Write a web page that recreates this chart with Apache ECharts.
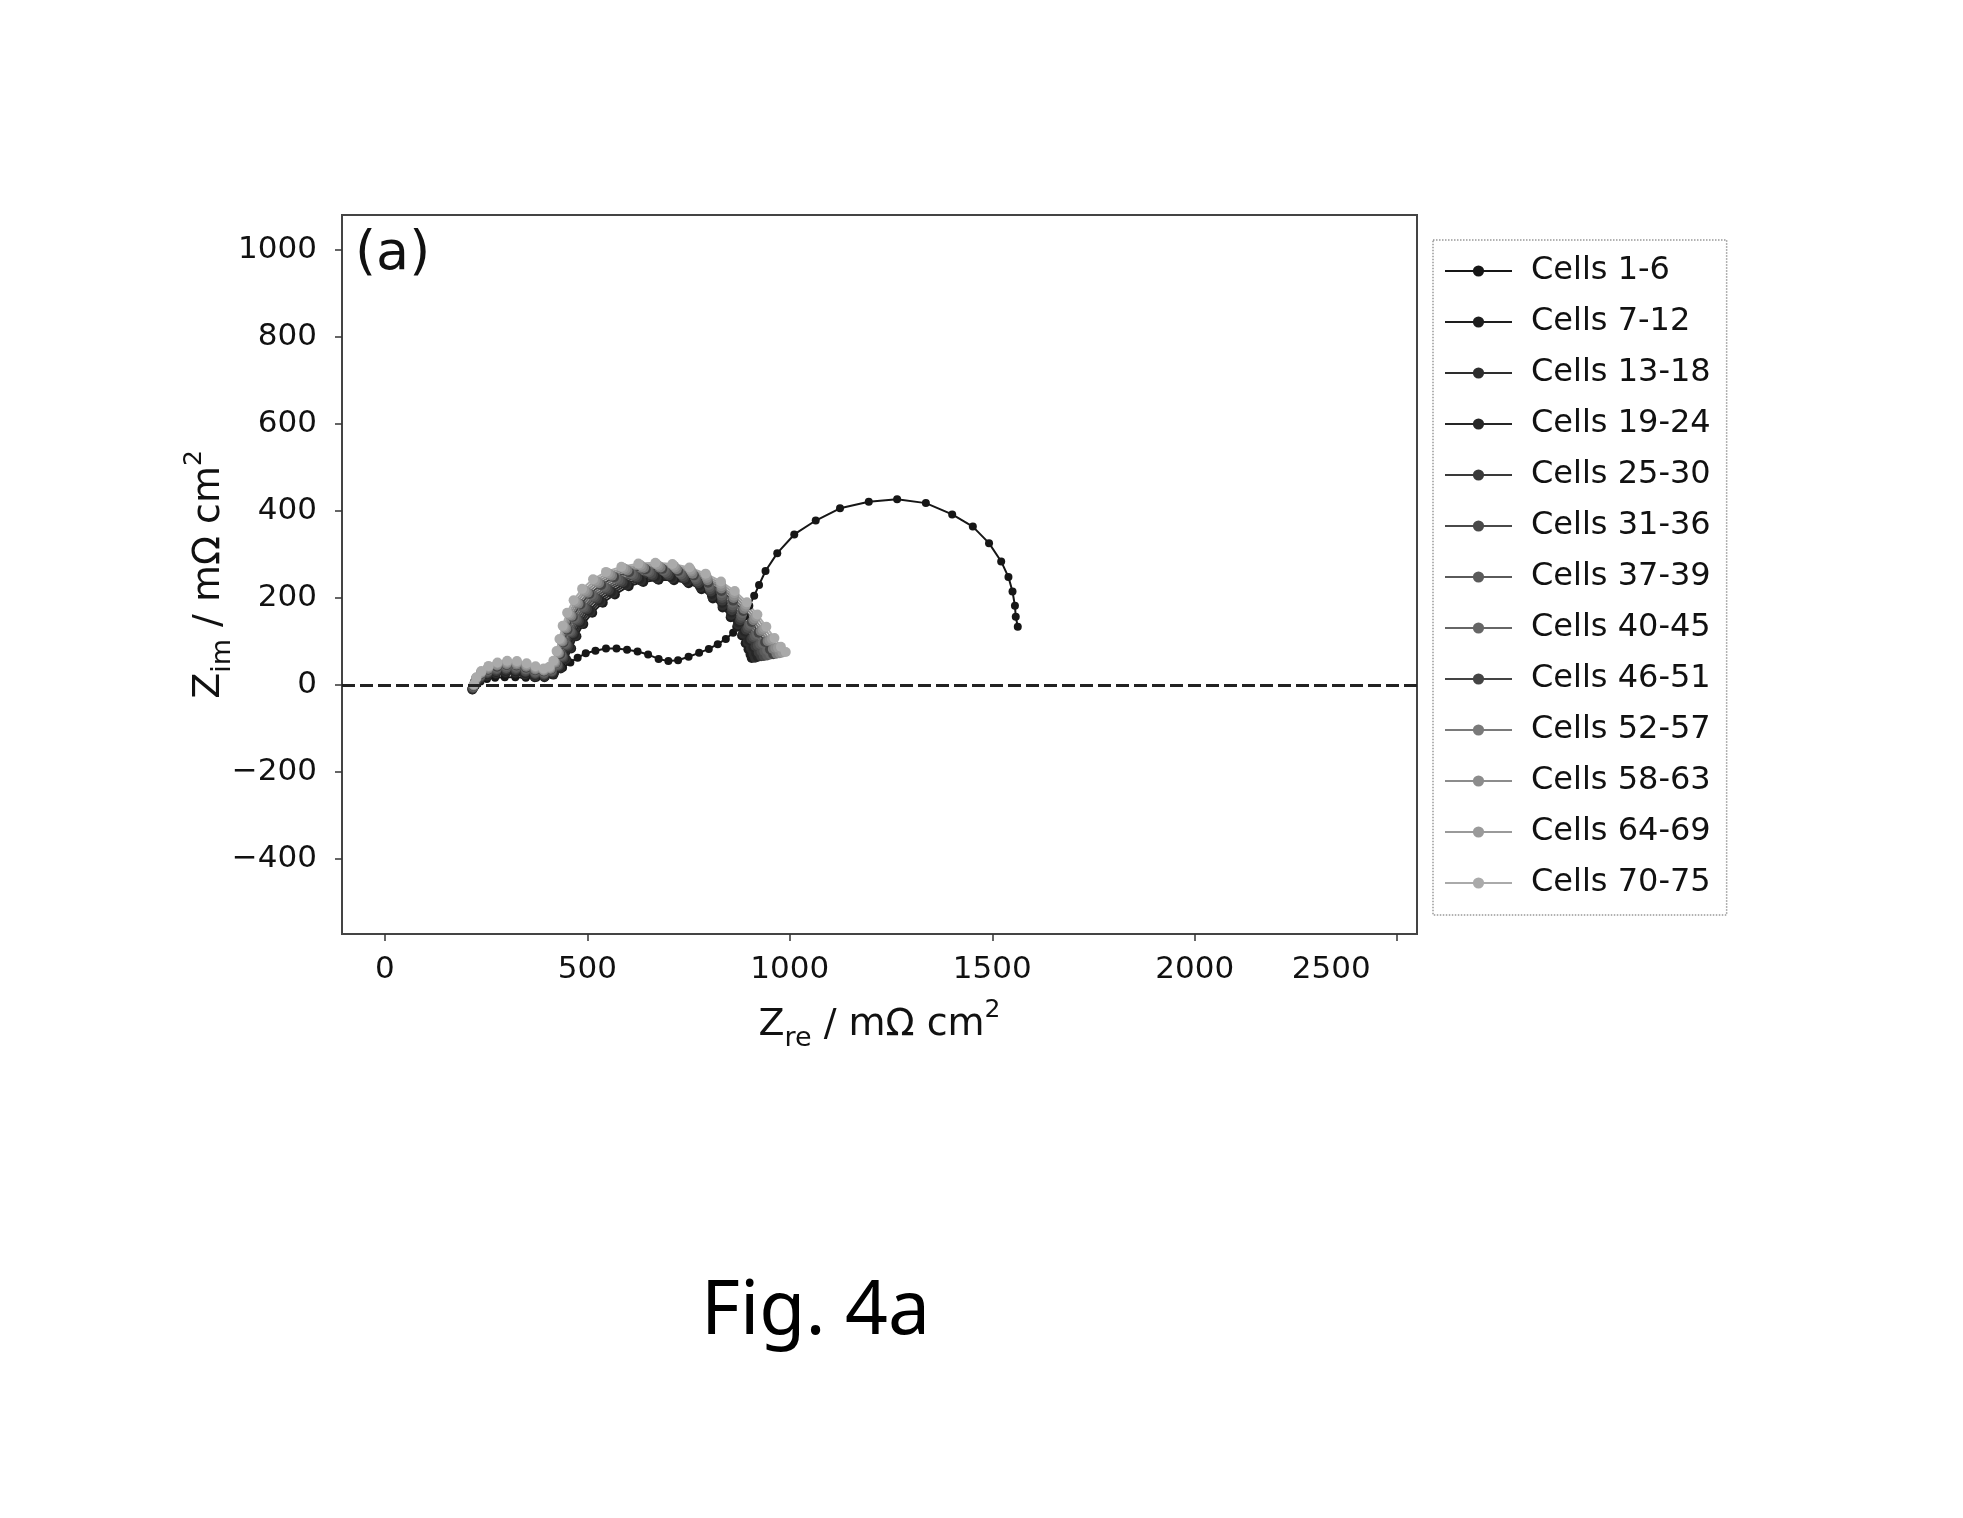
<!DOCTYPE html>
<html>
<head>
<meta charset="utf-8">
<style>
  html, body { margin: 0; background: #fff; }
  #container { width: 1963px; height: 1518px; }
</style>
</head>
<body>
<div id="container"></div>
<script src="https://cdn.jsdelivr.net/npm/echarts@6/dist/echarts.min.js"></script>
<script>
// series names, as in the legend
var seriesNames = ['Cells 1-6', 'Cells 7-12', 'Cells 13-18', 'Cells 19-24', 'Cells 25-30',
  'Cells 31-36', 'Cells 37-39', 'Cells 40-45', 'Cells 46-51', 'Cells 52-57',
  'Cells 58-63', 'Cells 64-69', 'Cells 70-75'];

var seriesColors = ['#161616', '#1e1e1e', '#2e2e2e', '#262626', '#3a3a3a', '#4a4a4a',
  '#5a5a5a', '#666666', '#444444', '#7a7a7a', '#8c8c8c', '#9a9a9a', '#aaaaaa'];

var xTicks = [0, 500, 1000, 1500, 2000, 2500];
var yTicks = [-400, -200, 0, 200, 400, 600, 800, 1000];

// [Zre, Zim] in mOhm cm2
var c1_6 = [[216,-12],[224,-2],[236,8],[252,14],[272,17],[296,18],[322,18],[348,17],[374,17],[398,20],[420,28],[440,40],[458,52],[476,63],[496,73],[520,79],[546,84],[572,84],[598,81],[624,77],[650,70],[676,60],[700,55],[724,57],[750,65],[776,74],[800,83],[822,94],[842,106],[860,120],[876,138],[889,158],[900,182],[912,205],[924,230],[940,262],[969,303],[1011,346],[1064,378],[1124,406],[1195,421],[1265,427],[1336,418],[1401,392],[1452,364],[1492,326],[1522,284],[1540,248],[1550,215],[1556,182],[1558,157],[1563,134]];
var c7_12 = [[216,-10],[222,2],[234,12],[252,20],[274,25],[298,27],[322,26],[346,22],[370,18],[394,18],[416,24],[434,38],[448,58],[460,84],[473,112],[490,140],[512,166],[538,189],[568,208],[602,227],[638,237],[676,242],[714,241],[750,234],[782,220],[810,199],[834,178],[854,156],[870,134],[882,114],[891,96],[898,82],[903,70],[906,62]];
var c13_18 = [[216,-9],[222,3],[234,14],[252,22],[274,27],[298,30],[322,29],[346,25],[370,20],[394,20],[415,26],[432,40],[446,60],[457,86],[470,114],[486,142],[508,169],[533,192],[563,211],[597,230],[633,240],[671,245],[710,245],[746,238],[779,225],[808,204],[834,183],[855,161],[872,139],[885,118],[896,99],[904,84],[910,72],[914,63]];
var c19_24 = [[217,-8],[223,5],[235,16],[253,24],[275,30],[299,32],[323,31],[347,27],[370,23],[394,22],[414,27],[431,41],[444,62],[455,88],[467,116],[483,145],[504,171],[529,195],[558,214],[592,233],[628,243],[667,249],[706,248],[743,242],[777,229],[807,209],[833,189],[856,167],[874,144],[889,123],[900,103],[910,87],[917,73],[921,65]];
var c25_30 = [[217,-7],[223,6],[235,17],[253,27],[275,32],[299,35],[323,34],[347,30],[371,25],[393,23],[413,29],[429,43],[441,63],[452,90],[464,119],[479,147],[499,174],[524,198],[553,218],[587,236],[623,247],[662,252],[701,252],[739,246],[774,234],[805,215],[833,194],[857,172],[877,149],[892,127],[905,106],[915,89],[923,75],[929,66]];
var c31_36 = [[217,-6],[223,8],[235,19],[253,29],[275,35],[299,38],[323,37],[347,32],[371,27],[393,25],[412,31],[427,45],[439,65],[449,92],[461,121],[475,149],[495,177],[519,201],[548,221],[582,239],[618,250],[658,255],[697,256],[736,250],[771,238],[803,220],[833,200],[858,178],[879,154],[896,131],[910,110],[921,91],[930,77],[936,67]];
var c37_39 = [[218,-5],[224,9],[236,21],[254,31],[276,37],[300,40],[324,39],[348,35],[371,29],[393,27],[412,32],[426,46],[437,67],[447,94],[458,123],[472,152],[491,179],[515,204],[544,224],[577,242],[613,253],[653,259],[693,259],[732,254],[768,243],[802,225],[832,205],[859,183],[881,159],[899,136],[914,113],[927,94],[937,78],[944,68]];
var c40_45 = [[218,-3],[224,11],[236,23],[254,33],[276,40],[300,43],[324,42],[348,37],[371,32],[393,29],[411,34],[424,48],[435,69],[444,96],[454,125],[468,154],[487,182],[510,207],[539,227],[571,245],[608,256],[649,262],[689,263],[728,258],[766,247],[800,230],[832,211],[859,189],[883,165],[903,140],[919,117],[933,96],[944,80],[952,70]];
var c46_51 = [[219,-2],[225,12],[237,25],[255,35],[277,42],[301,46],[325,45],[349,40],[371,34],[393,31],[410,36],[422,50],[433,71],[441,98],[451,127],[464,157],[483,185],[505,209],[534,230],[566,248],[603,259],[644,266],[685,267],[724,262],[763,252],[798,235],[831,216],[860,194],[885,170],[906,145],[923,120],[939,99],[951,82],[959,71]];
var c52_57 = [[219,-1],[225,14],[237,27],[255,37],[277,45],[301,48],[325,47],[349,42],[371,36],[393,33],[409,37],[421,51],[430,73],[439,100],[448,130],[461,159],[478,187],[501,212],[529,234],[561,251],[599,263],[640,269],[681,270],[721,266],[760,256],[797,241],[831,222],[861,200],[887,175],[910,149],[928,124],[945,101],[958,83],[967,72]];
var c58_63 = [[219,0],[225,15],[237,28],[255,40],[277,47],[301,51],[325,50],[349,45],[372,38],[392,34],[408,39],[419,53],[428,74],[436,102],[445,132],[457,161],[474,190],[496,215],[524,237],[556,254],[594,266],[635,272],[676,274],[717,270],[757,261],[795,246],[831,227],[862,205],[890,180],[913,153],[933,127],[950,103],[964,85],[975,73]];
var c64_69 = [[220,1],[226,17],[238,30],[256,42],[278,50],[302,53],[326,52],[350,47],[372,41],[392,36],[407,40],[418,54],[426,76],[434,104],[442,134],[454,164],[470,192],[492,218],[519,240],[551,257],[589,269],[631,276],[672,277],[714,274],[755,265],[794,251],[830,233],[863,211],[892,185],[917,158],[937,131],[956,106],[971,86],[982,75]];
var c70_75 = [[220,2],[226,18],[238,32],[256,44],[278,52],[302,56],[326,55],[350,50],[372,43],[392,38],[406,42],[416,56],[424,78],[431,106],[439,136],[450,166],[466,195],[487,221],[514,243],[546,260],[584,272],[626,279],[668,281],[710,278],[752,270],[792,256],[830,238],[864,216],[894,190],[920,162],[942,134],[962,108],[978,88],[990,76]];

var seriesData = [c1_6, c7_12, c13_18, c19_24, c25_30, c31_36, c37_39, c40_45,
  c46_51, c52_57, c58_63, c64_69, c70_75];

var font = 'DejaVu Sans';
var ink = '#111';

var chart = echarts.init(document.getElementById('container'), null, { renderer: 'canvas' });

var series = seriesNames.map(function (name, i) {
  var s = {
    name: name,
    type: 'line',
    data: seriesData[i],
    symbol: 'circle',
    symbolSize: i === 0 ? 8 : 10,
    showSymbol: true,
    lineStyle: { width: 2, color: seriesColors[i] },
    itemStyle: { color: seriesColors[i] }
  };
  if (i === 0) {
    // dashed zero line
    s.markLine = {
      silent: true,
      symbol: ['none', 'none'],
      label: { show: false },
      lineStyle: { type: [13, 5], color: '#222', width: 3 },
      data: [{ yAxis: 0 }]
    };
  }
  return s;
});

function axisName(sub) {
  return '{a|Z}{s|' + sub + '}{a| / mΩ cm}{p|2}';
}
var nameRich = {
  a: { fontFamily: font, fontSize: 38, color: ink, lineHeight: 54, verticalAlign: 'middle' },
  s: { fontFamily: font, fontSize: 27, color: ink, lineHeight: 27, verticalAlign: 'bottom' },
  p: { fontFamily: font, fontSize: 25, color: ink, lineHeight: 25, verticalAlign: 'top' }
};

var option = {
  animation: false,
  backgroundColor: '#fff',
  grid: {
    left: 342, top: 215, right: 546, bottom: 584,
    show: true, borderColor: '#444', borderWidth: 2
  },
  legend: {
    orient: 'vertical',
    left: 1433, top: 240,
    padding: [15, 16, 16, 11],
    borderColor: '#999', borderWidth: 1.5, borderType: 'dotted',
    itemWidth: 67, itemHeight: 14, itemGap: 19,
    textStyle: { fontFamily: font, fontSize: 32, color: ink, lineHeight: 32, padding: [0, 0, 0, 14] },
    data: seriesNames
  },
  xAxis: {
    type: 'value',
    min: -106, max: 2549,
    name: axisName('re'),
    nameLocation: 'middle',
    nameGap: 64,
    nameMoveOverlap: false,
    nameTextStyle: { rich: nameRich },
    axisLine: { show: true, onZero: false, lineStyle: { color: '#444', width: 2 } },
    axisTick: { show: true, length: 7, customValues: xTicks, lineStyle: { color: '#333', width: 1.5 } },
    axisLabel: {
      customValues: xTicks,
      margin: 20,
      fontFamily: font, fontSize: 31, color: ink,
      formatter: function (v) { return v === 2500 ? '{o|2500}' : String(v); },
      rich: { o: { fontFamily: font, fontSize: 31, color: ink, padding: [0, 132, 0, 0] } }
    },
    splitLine: { show: false }
  },
  yAxis: {
    type: 'value',
    min: -572, max: 1080,
    name: axisName('im'),
    nameLocation: 'middle',
    nameGap: 106,
    nameMoveOverlap: false,
    nameTextStyle: { rich: nameRich },
    axisLine: { show: true, onZero: false, lineStyle: { color: '#444', width: 2 } },
    axisTick: { show: true, length: 7, customValues: yTicks, lineStyle: { color: '#333', width: 1.5 } },
    axisLabel: {
      customValues: yTicks,
      margin: 25,
      fontFamily: font, fontSize: 31, color: ink,
      formatter: function (v) { return v < 0 ? '\u2212' + Math.abs(v) : String(v); }
    },
    splitLine: { show: false }
  },
  graphic: [
    { type: 'text', left: 355, top: 228, style: { text: '(a)', fontFamily: font, fontSize: 54, fill: ink } },
    { type: 'text', left: 701, top: 1275, style: { text: 'Fig. 4a', fontFamily: 'Noto Sans', fontSize: 75, fill: '#000' } }
  ],
  series: series
};

chart.setOption(option);
window.addEventListener('resize', chart.resize);
</script>
</body>
</html>
